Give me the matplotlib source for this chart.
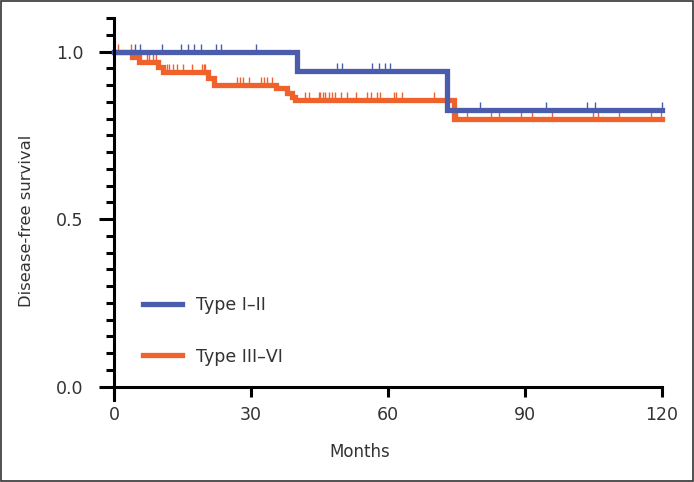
import numpy as np
import matplotlib
matplotlib.use("Agg")
import matplotlib.pyplot as plt
from matplotlib.patches import Rectangle
from matplotlib.ticker import MultipleLocator

# ---- data ----
blue_label = "Type I\u2013II"
blue_times = [0, 40, 73, 120]
blue_surv = [1.0, 0.943, 0.825, 0.825]
blue_censor = [4.5, 5.7, 10.5, 14.7, 16.1, 17.6, 19.0, 22.3, 23.4, 31.2,
               48.9, 50.0, 56.5, 58.0, 59.3, 60.4, 80.2, 94.7, 103.5, 105.4, 120.0]

orange_label = "Type III\u2013VI"
orange_times = [0, 4.0, 5.5, 9.7, 10.8, 20.5, 22.0, 35.4, 37.9, 38.9, 39.7, 74.5, 120]
orange_surv = [1.0, 0.985, 0.970, 0.955, 0.940, 0.920, 0.900, 0.890, 0.875, 0.865, 0.855, 0.800, 0.800]
orange_censor = [0.95, 3.7, 7.2, 7.7, 8.6, 9.3, 11.6, 12.1, 12.9, 13.9, 15.2, 17.0, 19.2, 19.6, 20.0,
                 26.9, 27.6, 28.2, 29.5, 32.2, 32.8, 33.5, 34.6, 41.9, 42.6, 44.8, 45.2, 45.8,
                 46.3, 47.0, 47.8, 48.5, 49.6, 51.1, 53.1, 55.3, 56.2, 57.6, 58.2, 61.3, 61.7,
                 63.1, 70.0, 75.2, 77.4, 82.5, 84.3, 89.1, 91.6, 96.0, 104.8, 105.9, 110.6,
                 117.6, 119.8]

x_ticks = [0, 30, 60, 90, 120]
y_ticks = [0.0, 0.5, 1.0]
x_label = "Months"
y_label = "Disease-free survival"

BLUE = "#4a5cab"
ORANGE = "#f0622c"
TEXT = "#333333"


def step_value(times, surv, t):
    idx = np.searchsorted(np.asarray(times), t, side="right") - 1
    return np.asarray(surv)[idx]


fig = plt.figure(figsize=(6.94, 4.82), dpi=100)
ax = fig.add_axes([114 / 694, 1 - 400 / 482, 548 / 694, 382 / 482])

ax.step(orange_times, orange_surv, where="post", color=ORANGE, lw=3.8,
        solid_joinstyle="miter", clip_on=False, zorder=3, label=orange_label)
ax.plot(orange_censor, step_value(orange_times, orange_surv, orange_censor),
        ls="none", marker=2, ms=6, mew=1.0, color=ORANGE, clip_on=False, zorder=3)
ax.step(blue_times, blue_surv, where="post", color=BLUE, lw=3.8,
        solid_joinstyle="miter", clip_on=False, zorder=4, label=blue_label)
ax.plot(blue_censor, step_value(blue_times, blue_surv, blue_censor),
        ls="none", marker=2, ms=6, mew=1.0, color=BLUE, clip_on=False, zorder=4)

ax.set_xlim(0, 120)
ax.set_ylim(-0.04, 1.1)
for s in ["top", "right"]:
    ax.spines[s].set_visible(False)
ax.spines["bottom"].set_position(("data", 0))
ax.spines["bottom"].set_bounds(0, 120)
ax.spines["left"].set_bounds(-0.04, 1.1)
for s in ["bottom", "left"]:
    ax.spines[s].set_linewidth(2.2)
    ax.spines[s].set_color("black")
    ax.spines[s].set_zorder(5)

ax.set_xticks(x_ticks)
ax.set_xticklabels([str(v) for v in x_ticks])
ax.set_yticks(y_ticks)
ax.set_yticklabels([f"{v:.1f}" for v in y_ticks])
ax.yaxis.set_minor_locator(MultipleLocator(0.05))
ax.tick_params(axis="x", direction="out", length=7, width=2.2, pad=7,
               labelsize=12.5, labelcolor=TEXT, color="black")
ax.tick_params(axis="y", which="major", direction="out", length=11, width=2.2, pad=11,
               labelsize=12.5, labelcolor=TEXT, color="black")
ax.tick_params(axis="y", which="minor", direction="out", length=6, width=2.2, color="black")

fig.text(360 / 694, 1 - 452 / 482, x_label, ha="center", va="center", fontsize=12, color=TEXT)
fig.text(27 / 694, 1 - 221 / 482, y_label, ha="center", va="center", rotation=90,
         fontsize=11.8, color=TEXT)

handles, labels = ax.get_legend_handles_labels()
leg = ax.legend(handles[::-1], labels[::-1], loc="upper left",
                bbox_to_anchor=(134 / 694, 1 - 287 / 482), bbox_transform=fig.transFigure,
                frameon=False, fontsize=12.5, handlelength=2.25, handletextpad=0.85,
                labelspacing=1.95, borderpad=0, labelcolor=TEXT)

fig.patches.append(Rectangle((0.0015, 0.002), 0.997, 0.996, transform=fig.transFigure,
                             fill=False, edgecolor="#333333", lw=1.2))

fig.savefig("out.png", dpi=100)
